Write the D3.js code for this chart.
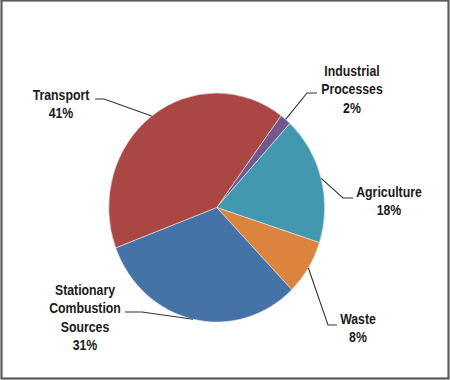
<!DOCTYPE html>
<html>
<head>
<meta charset="utf-8">
<script src="https://cdn.jsdelivr.net/npm/d3@7"></script>
<style>
html,body{margin:0;padding:0;background:#fff;}
text{font-family:"Liberation Sans","Arial",sans-serif;font-weight:bold;fill:#1a1a1a;}
</style>
</head>
<body>
<svg id="chart" width="450" height="380"></svg>
<script>
// Data (clockwise from the Industrial slice)
const categories = ["Industrial Processes", "Agriculture", "Waste", "Stationary Combustion Sources", "Transport"];
const labelLines = [["Industrial","Processes"],["Agriculture"],["Waste"],["Stationary","Combustion","Sources"],["Transport"]];
const values = [1.7, 18.1, 7.8, 31.5, 40.9];
const pctLabels = ["2%", "18%", "8%", "31%", "41%"];
const colors = ["#71588F", "#4198AF", "#DB843D", "#4572A7", "#AA4643"];

// Layout for labels: elbow point, line end, text centre x, first baseline
const labelLayout = [
  {elbow:[307,93], end:[317,93], tx:352, ty:76},
  {elbow:[343,198], end:[353,198], tx:389, ty:197},
  {elbow:[328,325], end:[337,325], tx:358, ty:324},
  {elbow:[142,312], end:[125,312], tx:85, ty:295},
  {elbow:[104,99], end:[95,99], tx:61, ty:100}
];

const svg = d3.select("#chart");
const W = 450, H = 380;
svg.append("rect").attr("x",1.5).attr("y",0.5).attr("width",W-3).attr("height",H-2)
  .attr("fill","#fff").attr("stroke","#5a5a5a").attr("stroke-width",2.2);

const cx = 216.7, cy = 207.5, r = 108, sy = 114.5/108;
const startA = 36.6 * Math.PI/180;
const pie = d3.pie().sort(null).value(d=>d).startAngle(startA).endAngle(startA + 2*Math.PI);
const arcs = pie(values);
const arc = d3.arc().innerRadius(0).outerRadius(r);

const g = svg.append("g").attr("transform",`translate(${cx},${cy}) scale(1,${sy})`);
g.selectAll("path").data(arcs).join("path")
  .attr("d",arc)
  .attr("fill",(d,i)=>colors[i])
  .attr("stroke","#e8e8e8").attr("stroke-width",0.6)
  .attr("vector-effect","non-scaling-stroke");

const lineGen = d3.line();
arcs.forEach((d,i)=>{
  const mid = (d.startAngle + d.endAngle)/2;
  const px = cx + r*Math.sin(mid);
  const py = cy - r*sy*Math.cos(mid);
  const L = labelLayout[i];
  svg.append("path").attr("d", lineGen([[px,py], L.elbow, L.end]))
    .attr("fill","none").attr("stroke","#333").attr("stroke-width",1.1);
  const lines = labelLines[i].concat([pctLabels[i]]);
  const t = svg.append("text").attr("text-anchor","middle").attr("font-size",15)
    .attr("transform",`translate(${L.tx},0) scale(0.82,1)`);
  lines.forEach((s,k)=>{
    t.append("tspan").attr("x",0).attr("y",L.ty + k*18.3).text(s);
  });
});
</script>
</body>
</html>
